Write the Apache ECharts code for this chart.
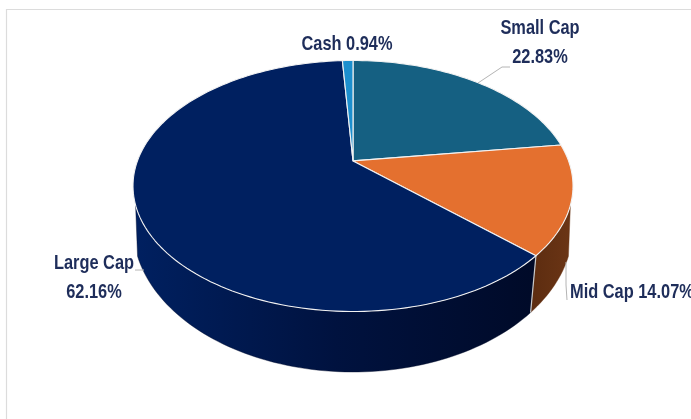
<!DOCTYPE html>
<html>
<head>
<meta charset="utf-8">
<style>html,body{margin:0;padding:0;background:#fff}#chart{width:691px;height:419px}</style>
<script src="https://cdn.jsdelivr.net/npm/echarts@6/dist/echarts.min.js"></script>
</head>
<body>
<div id="chart"></div>
<script>
// Portfolio allocation by market capitalisation, clockwise from twelve o'clock.
const categories = ['Small Cap', 'Mid Cap', 'Large Cap', 'Cash'];
const shares = [22.83, 14.07, 62.16, 0.94];
const topColors = ['#156082', '#E4702F', '#002060', '#1C8FCE'];
const sideColors = [
  ['#0d3d53', '#0d3d53'],
  ['#5c2c10', '#6b3515'],
  ['#002060', '#00123f', '#000a28'],
  ['#125a80', '#125a80']
];
const labelLines = [['Small Cap', '22.83%'], ['Mid Cap 14.07%'], ['Large Cap', '62.16%'], ['Cash 0.94%']];

// Disc geometry: rims are ellipses seen in perspective, so the hub sits above the ellipse centre.
const TOP_RIM = { cx: 353, cy: 186, rx: 220, ry: 125.5, p: -0.2 };
const BOTTOM_RIM = { cx: 353, cy: 227, rx: 220, ry: 145, p: -0.15 };
const SIDE_FROM = 110, SIDE_TO = 250;   // visible part of the wall, degrees clockwise from top
const STEP = 1.5;
const LABEL_STRETCH = 0.78;             // condenses the label typeface horizontally

// Label anchors and their leader lines, in the same order as the categories.
const labelAnchors = [
  { x: 540, y: [28, 57], align: 'center', leader: [[478, 83], [502, 67], [510, 67]] },
  { x: 570, y: [292], align: 'left', leader: [[566, 262], [566, 285], [567, 300]] },
  { x: 94, y: [263, 292], align: 'center', leader: [[135, 270], [144, 270]] },
  { x: 347, y: [44], align: 'center', leader: null }
];

function project(rim, deg) {
  const t = deg * Math.PI / 180, u = Math.sin(t), v = -Math.cos(t);
  const d = 1 + rim.p * v;
  return [
    rim.cx + rim.rx * Math.sqrt(1 - rim.p * rim.p) * u / d,
    rim.cy + rim.ry * (v + rim.p) / d
  ];
}
function arc(rim, a, b) {
  const n = Math.max(1, Math.ceil(Math.abs(b - a) / STEP)), pts = [];
  for (let i = 0; i <= n; i++) pts.push(project(rim, a + (b - a) * i / n));
  return pts;
}

// Cumulative angular extents of the slices, derived from the shares.
const total = shares.reduce((s, x) => s + x, 0);
let running = 0;
const slices = shares.map((value, index) => {
  const start = running / total * 360;
  running += value;
  return [index, start, running / total * 360, value];
});

function renderWall(params, api) {
  const i = api.value(0);
  const a = Math.max(api.value(1), SIDE_FROM), b = Math.min(api.value(2), SIDE_TO);
  if (b <= a) return null;
  const stops = sideColors[i];
  return {
    type: 'polygon',
    shape: { points: arc(TOP_RIM, a, b).concat(arc(BOTTOM_RIM, a, b).reverse()) },
    style: {
      // Gradient is horizontal in the wall's bounding box, shading towards the lower right.
      fill: new echarts.graphic.LinearGradient(0, 0, 1, 0,
        stops.map((color, k) => ({ offset: k / (stops.length - 1), color }))),
      stroke: stops[stops.length - 1],
      lineWidth: 0.4
    }
  };
}

function renderSeam() {
  // Light seam where the large-cap and mid-cap walls meet.
  const d = slices[1][2];
  const a = project(TOP_RIM, d), b = project(BOTTOM_RIM, d);
  return {
    type: 'line',
    shape: { x1: a[0], y1: a[1], x2: b[0], y2: b[1] },
    style: { stroke: '#c9c9c9', lineWidth: 1.2 }
  };
}

function renderTop(params, api) {
  const i = api.value(0);
  const hub = [TOP_RIM.cx, TOP_RIM.cy + TOP_RIM.ry * TOP_RIM.p];
  return {
    type: 'polygon',
    shape: { points: [hub].concat(arc(TOP_RIM, api.value(1), api.value(2))) },
    style: { fill: topColors[i], stroke: '#f2f2f2', lineWidth: 1.1, lineJoin: 'round' }
  };
}

function renderLabel(params, api) {
  const i = api.value(0), anchor = labelAnchors[i], children = [];
  if (anchor.leader) {
    children.push({
      type: 'polyline',
      shape: { points: anchor.leader },
      style: { fill: 'none', stroke: '#b4b4b4', lineWidth: 1 }
    });
  }
  labelLines[i].forEach((line, k) => {
    children.push({
      type: 'text',
      x: anchor.x, y: anchor.y[k], scaleX: LABEL_STRETCH,
      style: {
        x: 0, y: 0, text: line,
        align: anchor.align, verticalAlign: 'middle',
        fill: '#1e2d5a',
        font: 'bold 21px "Liberation Sans", sans-serif'
      }
    });
  });
  return { type: 'group', children };
}

const chart = echarts.init(document.getElementById('chart'), null, { renderer: 'canvas' });
chart.setOption({
  animation: false,
  backgroundColor: '#ffffff',
  graphic: [
    { type: 'line', shape: { x1: 6, y1: 9.5, x2: 691, y2: 9.5 }, style: { stroke: '#dcdcdc', lineWidth: 1.2 } },
    { type: 'line', shape: { x1: 6.5, y1: 9, x2: 6.5, y2: 419 }, style: { stroke: '#dcdcdc', lineWidth: 1.2 } }
  ],
  series: [
    { type: 'custom', coordinateSystem: 'none', z: 1, data: slices, renderItem: renderWall, silent: true },
    { type: 'custom', coordinateSystem: 'none', z: 2, data: [[0]], renderItem: renderSeam, silent: true },
    { type: 'custom', coordinateSystem: 'none', z: 3, data: slices, renderItem: renderTop, silent: true },
    { type: 'custom', coordinateSystem: 'none', z: 4, data: slices, renderItem: renderLabel, silent: true }
  ]
});
</script>
</body>
</html>
